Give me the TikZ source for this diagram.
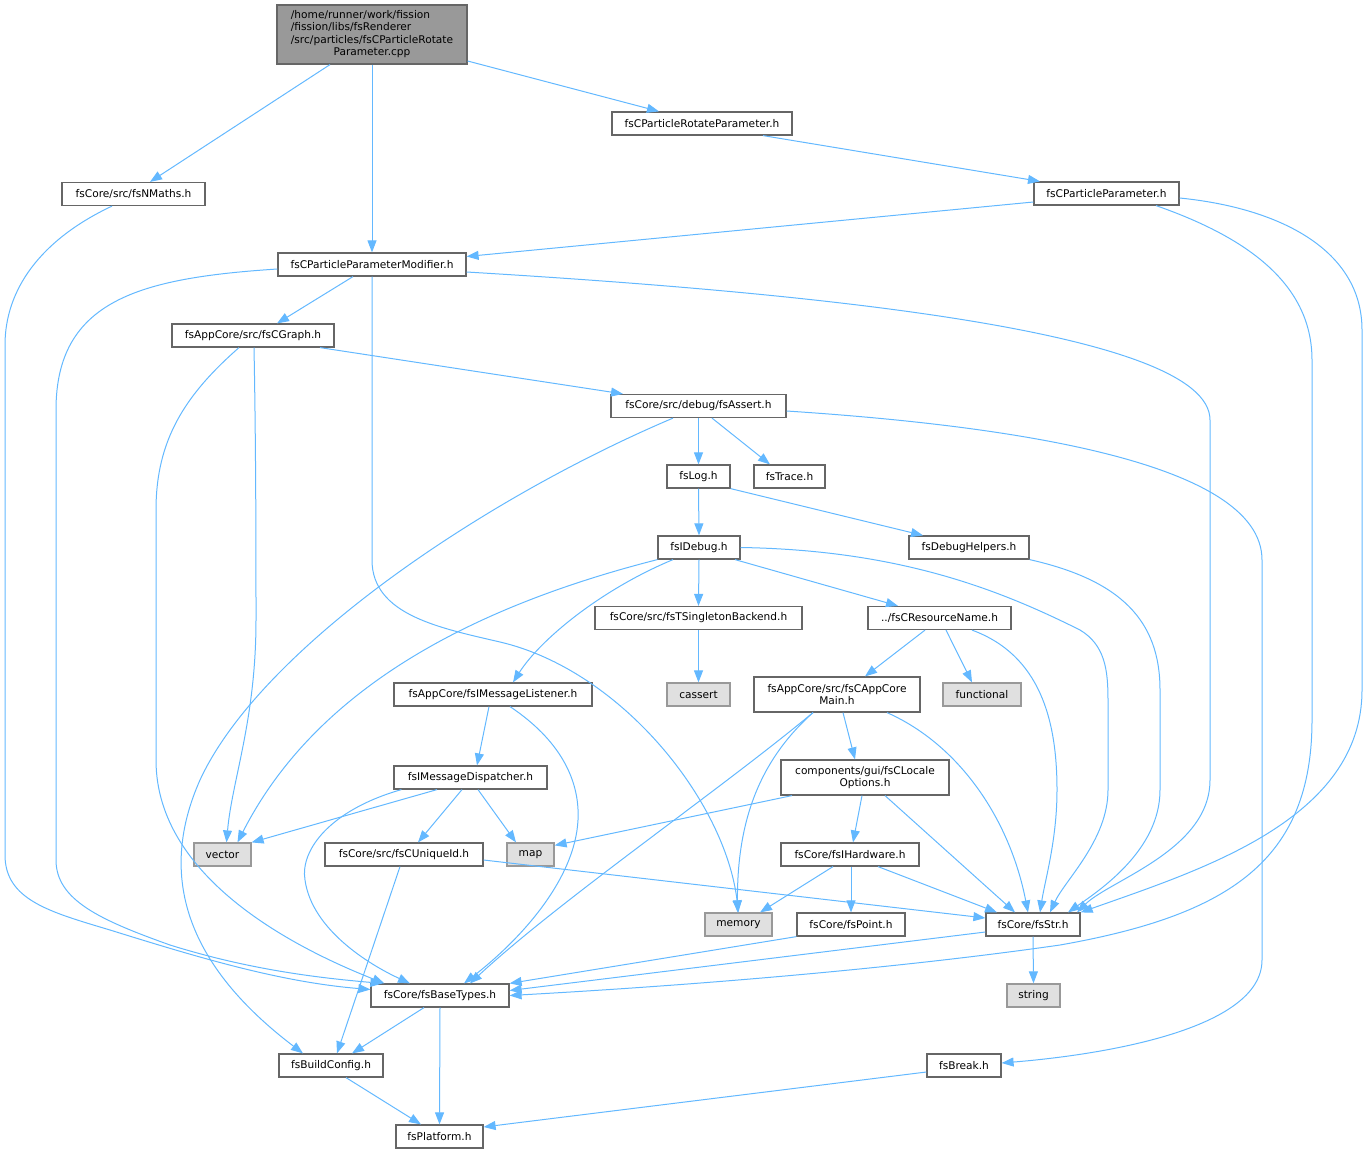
\documentclass[tikz,border=0pt]{standalone}
\usepackage{fontspec}
\setmainfont{DejaVu Sans}
\usetikzlibrary{arrows.meta}
\definecolor{edgec}{HTML}{63B8FF}
\definecolor{bordc}{HTML}{666666}
\definecolor{extb}{HTML}{999999}
\definecolor{extf}{HTML}{E0E0E0}
\definecolor{rootf}{HTML}{999999}
\tikzset{
  box/.style={draw=bordc, line width=1.2pt, fill=white, inner sep=0pt,
    font=\fontsize{10.6}{12.6}\selectfont, align=center, minimum height=23pt},
  ext/.style={box, draw=extb, fill=extf},
  rootbox/.style={box, fill=rootf},
  edge/.style={draw=edgec, line width=1pt, -{Triangle[length=12pt,width=9pt]}},
}
\begin{document}
\begin{tikzpicture}[x=1pt,y=-1pt]
\useasboundingbox (0,0) rectangle (1368,1153);
% nodes
\node[rootbox, minimum width=190pt, minimum height=59pt] (root) at (372,34.5)
  {\begin{tabular}{@{}l@{}}/home/runner/work/fission\\/fission/libs/fsRenderer\\/src/particles/fsCParticleRotate\\\multicolumn{1}{@{}c@{}}{Parameter.cpp}\end{tabular}};
\node[box, minimum width=180pt] (rot) at (702,123.5) {fsCParticleRotateParameter.h};
\node[box, minimum width=143pt] (nmaths) at (133.5,194) {fsCore/src/fsNMaths.h};
\node[box, minimum width=145pt] (param) at (1106.5,193.5) {fsCParticleParameter.h};
\node[box, minimum width=188pt] (mod) at (372,264.5) {fsCParticleParameterModifier.h};
\node[box, minimum width=162pt] (graph) at (253,335.5) {fsAppCore/src/fsCGraph.h};
\node[box, minimum width=175pt] (assert) at (698.5,406) {fsCore/src/debug/fsAssert.h};
\node[box, minimum width=63pt] (log) at (698.5,476.5) {fsLog.h};
\node[box, minimum width=71pt] (trace) at (789.5,476.5) {fsTrace.h};
\node[box, minimum width=82pt] (idebug) at (699,547.5) {fsIDebug.h};
\node[box, minimum width=120pt] (dbghelp) at (969,547.5) {fsDebugHelpers.h};
\node[box, minimum width=207pt] (singleton) at (698.5,618) {fsCore/src/fsTSingletonBackend.h};
\node[box, minimum width=143pt] (resname) at (939.5,618) {../fsCResourceName.h};
\node[box, minimum width=198pt] (listener) at (493,694.5) {fsAppCore/fsIMessageListener.h};
\node[ext, minimum width=63pt] (cassert) at (698.5,694.5) {cassert};
\node[box, minimum width=166pt, minimum height=35pt] (appmain) at (837,694.5) {fsAppCore/src/fsCAppCore\\Main.h};
\node[ext, minimum width=78pt] (functional) at (982,694.5) {functional};
\node[box, minimum width=153pt] (dispatcher) at (470.5,777.5) {fsIMessageDispatcher.h};
\node[box, minimum width=168pt, minimum height=35pt] (locale) at (865,777.5) {components/gui/fsCLocale\\Options.h};
\node[ext, minimum width=57pt] (vector) at (222.5,854.5) {vector};
\node[box, minimum width=158pt] (uniqueid) at (404,854.5) {fsCore/src/fsCUniqueId.h};
\node[ext, minimum width=47pt] (map) at (530.5,854.5) {map};
\node[box, minimum width=138pt] (hardware) at (850,854.5) {fsCore/fsIHardware.h};
\node[ext, minimum width=67pt] (memory) at (738.5,924.5) {memory};
\node[box, minimum width=108pt] (point) at (851,924.5) {fsCore/fsPoint.h};
\node[box, minimum width=94pt] (str) at (1033,924.5) {fsCore/fsStr.h};
\node[box, minimum width=138pt] (basetypes) at (440,995.5) {fsCore/fsBaseTypes.h};
\node[ext, minimum width=53pt] (string) at (1033.5,995.5) {string};
\node[box, minimum width=104pt] (buildconfig) at (331,1065.5) {fsBuildConfig.h};
\node[box, minimum width=74pt] (break) at (964,1065.5) {fsBreak.h};
\node[box, minimum width=87pt] (platform) at (439.5,1136.5) {fsPlatform.h};
% edges
\draw[edge] ([xshift=-42pt]root.south) -- ([xshift=16.5pt]nmaths.north);
\draw[edge] (root.south) -- (mod.north);
\draw[edge] ([yshift=-26.5pt]root.east) -- ([xshift=-43pt]rot.north);
\draw[edge] ([xshift=61pt]rot.south) -- ([xshift=-66.5pt]param.north);
\draw[edge] ([yshift=-8.5pt]param.west) -- ([yshift=8pt]mod.east);
\draw[edge] ([yshift=-4.5pt]param.east) .. controls (1280,208) and (1362,250) .. (1362,330) -- (1362,690) .. controls (1362,820) and (1200,870) .. (str.north east);
\draw[edge] ([xshift=49.5pt]param.south) .. controls (1240,235) and (1312,280) .. (1312,360) -- (1312,720) .. controls (1312,860) and (1230,915) .. (1060,945) .. controls (900,968) and (700,985) .. (basetypes.east);
\draw[edge] ([xshift=-21.5pt]nmaths.south) .. controls (40,240) and (5,290) .. (5,345) -- (5,855) .. controls (5,900) and (50,912) .. (110,930) .. controls (200,958) and (280,982) .. ([yshift=6pt]basetypes.west);
\draw[edge] ([xshift=-19pt]mod.south) -- ([xshift=24pt]graph.north);
\draw[edge] ([yshift=-4.5pt]mod.west) .. controls (140,278) and (56,300) .. (56,410) -- (56,860) .. controls (56,900) and (100,920) .. (170,945) .. controls (250,970) and (320,978) .. ([xshift=12pt]basetypes.north west);
\draw[edge] (mod.south) -- (372,560) .. controls (372,615) and (440,628) .. (500,642) .. controls (620,670) and (725,800) .. (memory.north);
\draw[edge] ([yshift=-7.5pt]mod.east) .. controls (800,292) and (1210,330) .. (1210,420) -- (1210,780) .. controls (1210,850) and (1110,880) .. ([xshift=44pt]str.north);
\draw[edge] ([xshift=67pt]graph.south) -- ([xshift=-75.5pt]assert.north);
\draw[edge] ([xshift=1pt]graph.south) .. controls (256,450) and (256,560) .. (256,620) .. controls (256,720) and (232,780) .. ([xshift=4pt]vector.north);
\draw[edge] ([xshift=-14pt]graph.south) .. controls (185,395) and (156,440) .. (156,510) -- (156,760) .. controls (156,880) and (300,950) .. ([xshift=14pt]basetypes.north west);
\draw[edge] (assert.south) -- (log.north);
\draw[edge] ([xshift=13.5pt]assert.south) -- ([xshift=-19.5pt]trace.north);
\draw[edge] ([xshift=-25.5pt]assert.south) .. controls (480,500) and (260,650) .. (200,780) .. controls (160,870) and (180,960) .. ([xshift=-28pt]buildconfig.north);
\draw[edge] ([yshift=-5pt]assert.east) .. controls (1000,425) and (1262,460) .. (1262,560) -- (1262,960) .. controls (1262,1030) and (1100,1055) .. ([yshift=2.5pt]break.east);
\draw[edge] (log.south) -- (idebug.north);
\draw[edge] (log.south east) -- ([xshift=-46pt]dbghelp.north);
\draw[edge] (dbghelp.south east) .. controls (1120,580) and (1160,620) .. (1160,690) -- (1160,790) .. controls (1160,850) and (1100,890) .. ([xshift=35pt]str.north);
\draw[edge] (idebug.south west) .. controls (420,620) and (300,720) .. ([xshift=15pt]vector.north);
\draw[edge] ([xshift=-26pt]idebug.south) .. controls (600,590) and (540,640) .. ([xshift=20pt]listener.north);
\draw[edge] (idebug.south) -- (singleton.north);
\draw[edge] ([xshift=36pt]idebug.south) -- ([xshift=-41.5pt]resname.north);
\draw[edge] (idebug.east) .. controls (900,550) and (1000,590) .. (1080,630) .. controls (1105,645) and (1108,670) .. (1108,700) -- (1108,790) .. controls (1108,840) and (1065,880) .. ([xshift=17pt]str.north);
\draw[edge] (singleton.south) -- (cassert.north);
\draw[edge] ([xshift=-14.5pt]resname.south) -- ([xshift=28pt]appmain.north);
\draw[edge] ([xshift=6.5pt]resname.south) -- ([xshift=-10pt]functional.north);
\draw[edge] ([xshift=32.5pt]resname.south) .. controls (1040,655) and (1057,720) .. (1057,790) .. controls (1057,840) and (1045,880) .. ([xshift=7pt]str.north);
\draw[edge] ([xshift=-24pt]appmain.south) .. controls (760,760) and (737,820) .. ([xshift=-1pt]memory.north);
\draw[edge] ([xshift=6pt]appmain.south) -- ([xshift=-10pt]locale.north);
\draw[edge] ([xshift=50pt]appmain.south) .. controls (960,745) and (1010,820) .. ([xshift=-5pt]str.north);
\draw[edge] ([xshift=-24pt]appmain.south) .. controls (720,790) and (560,900) .. ([xshift=30pt]basetypes.north);
\draw[edge] ([xshift=-4pt]listener.south) -- ([xshift=6.5pt]dispatcher.north);
\draw[edge] ([xshift=17pt]listener.south) .. controls (560,740) and (580,780) .. (578,820) .. controls (575,880) and (520,940) .. ([xshift=24pt]basetypes.north);
\draw[edge] ([xshift=-33.5pt]dispatcher.south) -- (vector.north east);
\draw[edge] ([xshift=8pt]dispatcher.south west) .. controls (330,810) and (300,850) .. (305,880) .. controls (312,930) and (370,965) .. ([xshift=-30pt]basetypes.north);
\draw[edge] ([xshift=-8.5pt]dispatcher.south) -- ([xshift=14pt]uniqueid.north);
\draw[edge] ([xshift=7.5pt]dispatcher.south) -- ([xshift=-14.5pt]map.north);
\draw[edge] ([xshift=-4pt]uniqueid.south) -- ([xshift=6pt]buildconfig.north);
\draw[edge] ([yshift=-5.5pt]uniqueid.east) -- ([yshift=6.5pt]str.west);
\draw[edge] ([xshift=-73pt]locale.south) -- ([yshift=-3pt]map.north east);
\draw[edge] ([xshift=-3pt]locale.south) -- ([xshift=3pt]hardware.north);
\draw[edge] ([xshift=20pt]locale.south) -- ([xshift=-18pt]str.north);
\draw[edge] ([xshift=-17pt]hardware.south) -- ([xshift=21.5pt]memory.north);
\draw[edge] ([xshift=1pt]hardware.south) -- (point.north);
\draw[edge] ([xshift=28pt]hardware.south) -- ([xshift=-36pt]str.north);
\draw[edge] (point.south west) -- (basetypes.north east);
\draw[edge] ([yshift=-7.5pt]str.west) -- ([yshift=5pt]basetypes.east);
\draw[edge] (str.south) -- (string.north);
\draw[edge] ([xshift=-16pt]basetypes.south) -- ([xshift=21pt]buildconfig.north);
\draw[edge] (basetypes.south) -- (platform.north);
\draw[edge] ([xshift=15pt]buildconfig.south) -- ([xshift=-18.5pt]platform.north);
\draw[edge] ([yshift=-6.5pt]break.west) -- ([yshift=9.5pt]platform.east);
\end{tikzpicture}
\end{document}
